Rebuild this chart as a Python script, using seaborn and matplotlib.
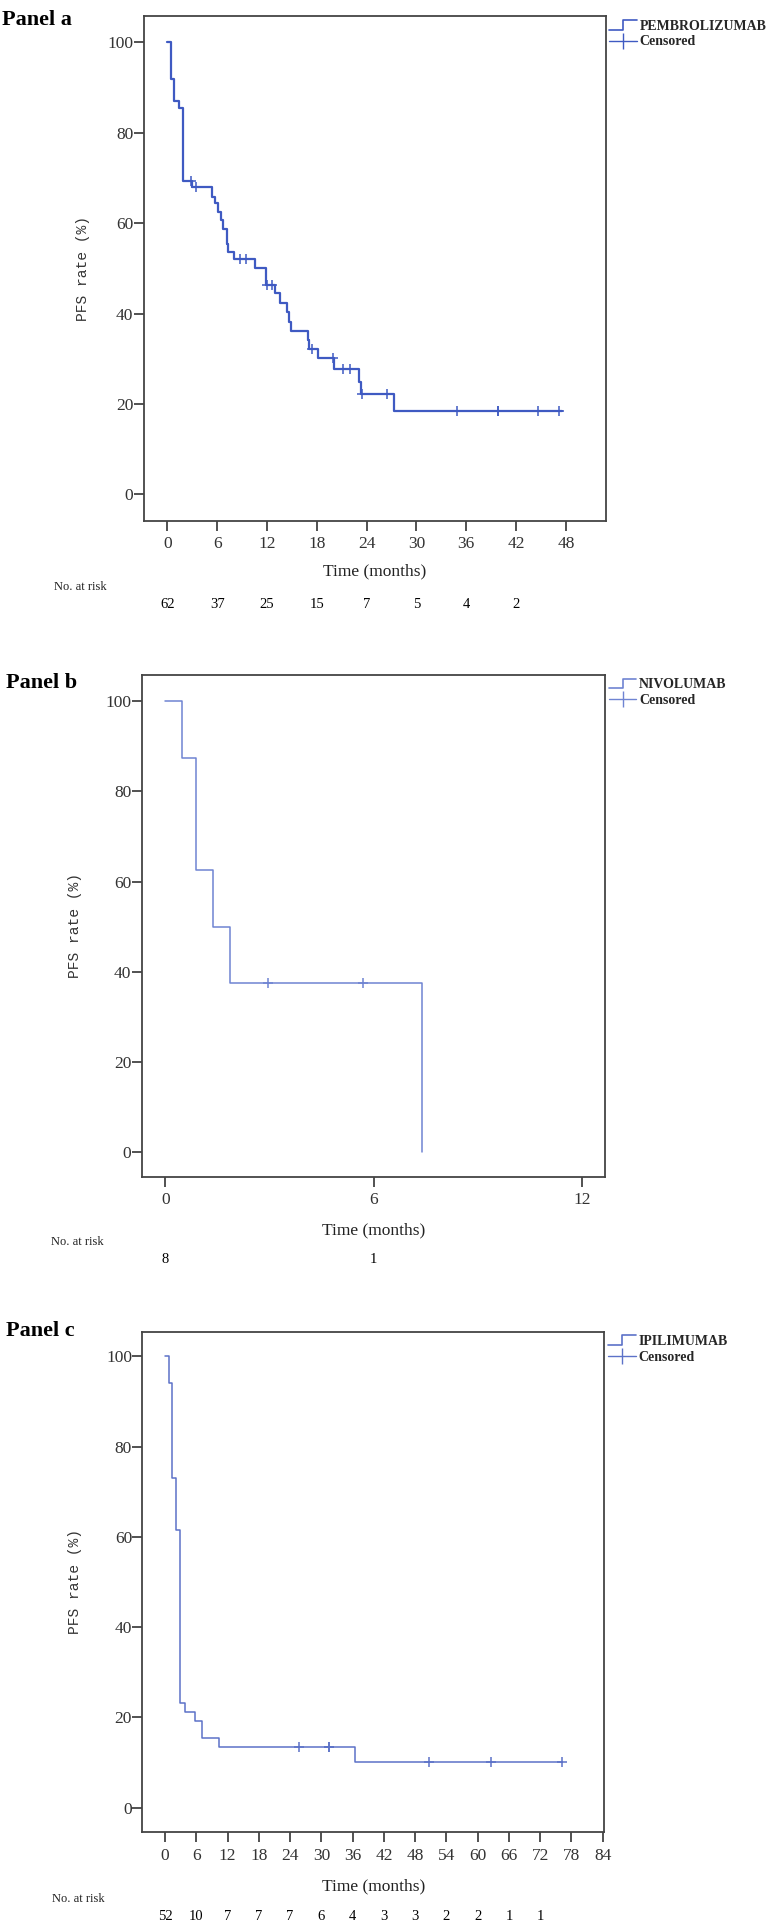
import matplotlib
matplotlib.use('Agg')
import matplotlib.pyplot as plt
import numpy as np
import pandas as pd
import seaborn as sns
from matplotlib.lines import Line2D
from matplotlib.legend_handler import HandlerBase

sns.set_style('white')
plt.rcParams['font.family'] = ['Liberation Serif', 'DejaVu Serif']

# Panel a - pembrolizumab (event times in months, PFS after each step)
times_a = [0, 0.44, 0.80, 1.45, 1.93, 3.0, 5.35, 5.75, 6.15, 6.47, 6.75, 7.15, 7.35, 8.04,
           10.5, 11.9, 13.0, 13.6, 14.4, 14.6, 14.9, 16.9, 17.1, 18.1, 20.1, 23.05, 23.3,
           27.35, 47.5]
pfs_a = [100, 91.9, 87.1, 85.5, 69.4, 68.1, 65.8, 64.4, 62.5, 60.7, 58.8, 55.5, 53.7, 52.0,
         50.1, 46.3, 44.5, 42.3, 40.4, 38.2, 36.2, 34.1, 32.1, 30.1, 27.7, 24.9, 22.3,
         18.5, 18.5]
cens_a = [2.8, 3.46, 8.8, 9.5, 12.0, 12.6, 17.4, 19.9, 21.1, 22.0, 23.5, 26.4, 34.9,
          39.8, 39.8, 44.6, 47.2]
risk_a = [62, 37, 25, 15, 7, 5, 4, 2]
ticks_a = [0, 6, 12, 18, 24, 30, 36, 42, 48]

# Panel b - nivolumab
times_b = [0, 0.49, 0.89, 1.38, 1.87, 7.38]
pfs_b = [100, 87.5, 62.5, 50, 37.5, 0]
cens_b = [2.97, 5.68]
risk_b = [8, 1]
ticks_b = [0, 6, 12]

# Panel c - ipilimumab
times_c = [0, 0.73, 1.38, 2.13, 2.88, 3.82, 5.7, 7.0, 10.3, 36.5, 76.1]
pfs_c = [100, 94.2, 73.1, 61.5, 23.1, 21.2, 19.2, 15.4, 13.5, 10.1, 10.1]
cens_c = [25.7, 31.4, 31.4, 50.7, 62.6, 76.1]
risk_c = [52, 10, 7, 7, 7, 6, 4, 3, 3, 2, 2, 1, 1]
ticks_c = [0, 6, 12, 18, 24, 30, 36, 42, 48, 54, 60, 66, 72, 78, 84]


class StepHandler(HandlerBase):
    # little step symbol like the SPSS legend
    def create_artists(self, legend, orig_handle, xdescent, ydescent, width, height, fontsize, trans):
        x0, y0 = -xdescent, -ydescent
        xs = [x0, x0 + 0.5 * width, x0 + 0.5 * width, x0 + width]
        ys = [y0, y0, y0 + height, y0 + height]
        ln = Line2D(xs, ys, color=orig_handle.get_color(), lw=orig_handle.get_linewidth())
        ln.set_transform(trans)
        return [ln]


def draw_panel(ax, times, pfs, cens, risk, ticks, xlim, ylim, color, lw, drug, panel,
               ylab_x, xlab_y, risk_y, title_pos):
    df = pd.DataFrame({'t': times, 'pfs': pfs})
    sns.lineplot(data=df, x='t', y='pfs', drawstyle='steps-post', color=color, linewidth=lw,
                 estimator=None, sort=False, ax=ax, legend=False)
    # censored marks sit on the curve
    idx = np.searchsorted(np.array(times), np.array(cens), side='right') - 1
    cdf = pd.DataFrame({'t': cens, 'pfs': np.array(pfs)[idx]})
    sns.scatterplot(data=cdf, x='t', y='pfs', marker='+', s=45, color=color, linewidth=1.1,
                    ax=ax, legend=False, zorder=3)

    ax.set_xlim(*xlim)
    ax.set_ylim(*ylim)
    ax.set_xticks(ticks)
    ax.set_yticks([0, 20, 40, 60, 80, 100])
    ax.tick_params(axis='both', direction='out', length=7, width=1.2, colors='#333333',
                   labelsize=12.5, bottom=True, left=True)
    ax.tick_params(axis='x', pad=4)
    ax.tick_params(axis='y', pad=0.5)
    for s in ax.spines.values():
        s.set_color('#444444')
        s.set_linewidth(1.3)
    ax.set_xlabel('')
    ax.set_ylabel('PFS rate (%)', family='Liberation Mono', fontsize=10.5, color='#333333')
    ax.yaxis.set_label_coords(ylab_x, 0.5)

    ax.text(0.5, xlab_y, 'Time (months)', transform=ax.transAxes, ha='center', va='center',
            fontsize=12.5, color='#222222')
    ax.text(-0.195, risk_y + 0.035, 'No. at risk', transform=ax.transAxes, ha='left',
            va='center', fontsize=9, color='#222222')
    trans = ax.get_xaxis_transform()
    for t, n in zip(ticks, risk):
        ax.text(t, risk_y, str(n), transform=trans, ha='center', va='center', fontsize=10.5,
                color='black')

    step_proxy = Line2D([], [], color=color, lw=1.2)
    cens_proxy = Line2D([], [], color=color, lw=1.0, marker='|', markersize=11,
                        markeredgewidth=1.0)
    ax.legend([step_proxy, cens_proxy], [drug, 'Censored'], handler_map={step_proxy: StepHandler()},
              loc='upper left', bbox_to_anchor=(1.0, 1.0), frameon=False, borderpad=0.1,
              borderaxespad=0.15, handlelength=2.0, handletextpad=0.2, labelspacing=0.2,
              prop={'family': 'Liberation Serif', 'weight': 'bold', 'size': 10})

    fig.text(title_pos[0], title_pos[1], panel, ha='left', va='center', fontsize=16,
             fontweight='bold', color='black')


fig = plt.figure(figsize=(7.67, 19.22), dpi=100)

ax_a = fig.add_axes([0.1874, 0.7289, 0.6023, 0.2627])
draw_panel(ax_a, times_a, pfs_a, cens_a, risk_a, ticks_a, (-2.85, 52.8), (-5.9, 105.8),
           '#3f5ac2', 1.6, 'PEMBROLIZUMAB', 'Panel a', -0.117, -0.100, -0.165,
           (2.5 / 767, 1 - 20 / 1922))

ax_b = fig.add_axes([0.1847, 0.3878, 0.6043, 0.2610])
draw_panel(ax_b, times_b, pfs_b, cens_b, risk_b, ticks_b, (-0.68, 12.66), (-5.4, 105.8),
           '#6f84d2', 1.1, 'NIVOLUMAB', 'Panel b', -0.129, -0.108, -0.166,
           (6 / 767, 1 - 683 / 1922))

ax_c = fig.add_axes([0.1857, 0.0466, 0.6022, 0.2606])
draw_panel(ax_c, times_c, pfs_c, cens_c, risk_c, ticks_c, (-4.34, 84.3), (-5.5, 105.5),
           '#5c72c8', 1.1, 'IPILIMUMAB', 'Panel c', -0.131, -0.108, -0.168,
           (6 / 767, 1 - 1331 / 1922))

fig.savefig('out.png', dpi=100)
